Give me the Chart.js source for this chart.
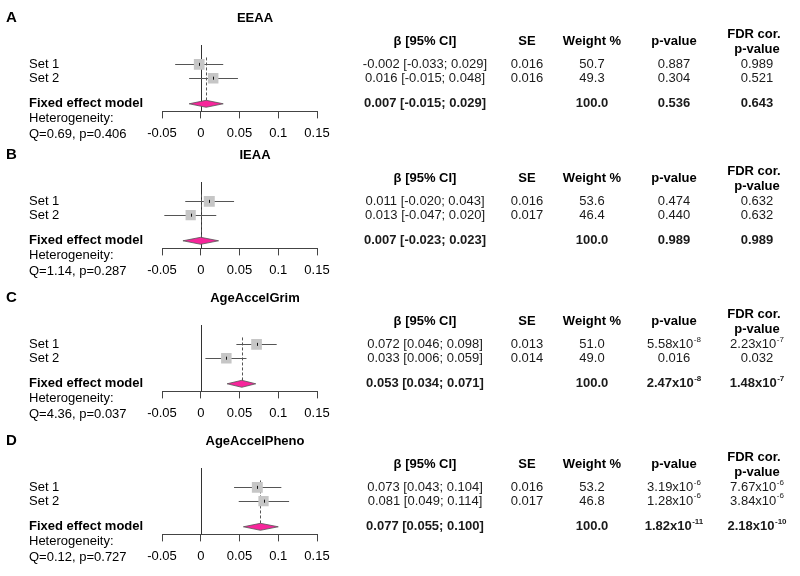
<!DOCTYPE html>
<html>
<head>
<meta charset="utf-8">
<script src="https://cdn.jsdelivr.net/npm/chart.js@4.4.0/dist/chart.umd.min.js"></script>
<style>
  body { margin: 0; background: #fff; }
  #wrap { position: relative; width: 800px; height: 576px; overflow: hidden; }
  .panel { position: absolute; left: 0; }
</style>
</head>
<body>
<div id="wrap"></div>
<script>
// données du graphique (un élément par panneau A-D)
const panelLetters = ["A", "B", "C", "D"];
const titles = ["EEAA", "IEAA", "AgeAccelGrim", "AgeAccelPheno"];
const studies = ["Set 1", "Set 2"];
const xTickLabels = ["-0.05", "0", "0.05", "0.1", "0.15"];

// estimations tracées
const studyEst = [[-0.002, 0.016], [0.011, -0.013], [0.072, 0.033], [0.073, 0.081]];
const studyLo = [[-0.033, -0.015], [-0.020, -0.047], [0.046, 0.006], [0.043, 0.049]];
const studyHi = [[0.029, 0.048], [0.043, 0.020], [0.098, 0.059], [0.104, 0.114]];
const studyWeight = [[50.7, 49.3], [53.6, 46.4], [51.0, 49.0], [53.2, 46.8]];
const fixedEst = [0.007, 0.0, 0.053, 0.077];
const fixedLo = [-0.015, -0.023, 0.034, 0.055];
const fixedHi = [0.029, 0.023, 0.071, 0.100];

// textes du tableau
const ciText = [
  ["-0.002 [-0.033; 0.029]", "0.016 [-0.015; 0.048]"],
  ["0.011 [-0.020; 0.043]", "0.013 [-0.047; 0.020]"],
  ["0.072 [0.046; 0.098]", "0.033 [0.006; 0.059]"],
  ["0.073 [0.043; 0.104]", "0.081 [0.049; 0.114]"]
];
const fixedCiText = ["0.007 [-0.015; 0.029]", "0.007 [-0.023; 0.023]", "0.053 [0.034; 0.071]", "0.077 [0.055; 0.100]"];
const seText = [["0.016", "0.016"], ["0.016", "0.017"], ["0.013", "0.014"], ["0.016", "0.017"]];
const weightText = [["50.7", "49.3"], ["53.6", "46.4"], ["51.0", "49.0"], ["53.2", "46.8"]];
const pText = [["0.887", "0.304"], ["0.474", "0.440"], ["5.58x10^-8", "0.016"], ["3.19x10^-6", "1.28x10^-6"]];
const fixedPText = ["0.536", "0.989", "2.47x10^-8", "1.82x10^-11"];
const fdrText = [["0.989", "0.521"], ["0.632", "0.632"], ["2.23x10^-7", "0.032"], ["7.67x10^-6", "3.84x10^-6"]];
const fixedFdrText = ["0.643", "0.989", "1.48x10^-7", "2.18x10^-10"];
const hetText = ["Q=0.69, p=0.406", "Q=1.14, p=0.287", "Q=4.36, p=0.037", "Q=0.12, p=0.727"];

// mise en page
const FAM = "'Liberation Sans', Arial, sans-serif";
const panelTops = [1, 138, 281, 424];
const rowPos = [1, 2];       // lignes Set 1 / Set 2
const fixedRow = 3.85;
const cols = { ci: 425, se: 527, w: 592, p: 674, fdr: 757 };

// texte avec exposant optionnel ("5.58x10^-8")
function drawVal(ctx, str, cx, cy, bold) {
  const parts = str.split("^");
  const f = (bold ? "bold " : "") + "13px " + FAM;
  const fs = (bold ? "bold " : "") + "8px " + FAM;
  ctx.font = f;
  const wb = ctx.measureText(parts[0]).width;
  let ws = 0;
  if (parts[1]) { ctx.font = fs; ws = ctx.measureText(parts[1]).width + 0.5; }
  const left = cx - (wb + ws) / 2;
  ctx.textAlign = "left";
  ctx.textBaseline = "middle";
  ctx.font = f;
  ctx.fillText(parts[0], left, cy);
  if (parts[1]) {
    ctx.font = fs;
    ctx.fillText(parts[1], left + wb + 0.5, cy - 5);
  }
}

function hline(ctx, x1, x2, y) {
  y = Math.round(y) + 0.5;
  ctx.beginPath(); ctx.moveTo(x1, y); ctx.lineTo(x2, y); ctx.stroke();
}
function vline(ctx, x, y1, y2) {
  x = Math.round(x) + 0.5;
  ctx.beginPath(); ctx.moveTo(x, y1); ctx.lineTo(x, y2); ctx.stroke();
}

const forestPlugin = (i) => ({
  id: "forest" + i,
  beforeDatasetsDraw(chart) {
    const { ctx, chartArea, scales: { x, y } } = chart;
    ctx.save();
    ctx.lineWidth = 1;
    // ligne zéro
    ctx.strokeStyle = "#333";
    vline(ctx, x.getPixelForValue(0), chartArea.top, chartArea.bottom);
    // ligne pointillée de l'effet fixe
    ctx.setLineDash([3, 2]);
    ctx.strokeStyle = "#555";
    vline(ctx, x.getPixelForValue(fixedEst[i]), y.getPixelForValue(0.5), y.getPixelForValue(fixedRow) - 3);
    ctx.setLineDash([]);
    // intervalles de confiance
    ctx.strokeStyle = "#555";
    studies.forEach((s, k) => {
      hline(ctx, x.getPixelForValue(studyLo[i][k]), x.getPixelForValue(studyHi[i][k]), y.getPixelForValue(rowPos[k]));
    });
    ctx.restore();
  },
  afterDatasetsDraw(chart) {
    const { ctx, scales: { x, y } } = chart;
    ctx.save();
    // petit trait au centre des carrés
    ctx.strokeStyle = "#111";
    studies.forEach((s, k) => {
      const py = y.getPixelForValue(rowPos[k]);
      vline(ctx, x.getPixelForValue(studyEst[i][k]), py - 1.5, py + 1.5);
    });
    // losange
    const fy = y.getPixelForValue(fixedRow);
    ctx.beginPath();
    ctx.moveTo(x.getPixelForValue(fixedLo[i]), fy);
    ctx.lineTo(x.getPixelForValue(fixedEst[i]), fy - 3.5);
    ctx.lineTo(x.getPixelForValue(fixedHi[i]), fy);
    ctx.lineTo(x.getPixelForValue(fixedEst[i]), fy + 3.5);
    ctx.closePath();
    ctx.fillStyle = "#f7259b";
    ctx.fill();
    ctx.strokeStyle = "#555";
    ctx.lineWidth = 0.8;
    ctx.stroke();
    ctx.restore();
  },
  afterDraw(chart) {
    const { ctx, chartArea, scales: { y } } = chart;
    ctx.save();
    ctx.fillStyle = "#000";
    // lettre et titre
    ctx.textBaseline = "middle";
    ctx.textAlign = "left";
    ctx.font = "bold 15px " + FAM;
    ctx.fillText(panelLetters[i], 6, chartArea.top - 27);
    ctx.textAlign = "center";
    ctx.font = "bold 13px " + FAM;
    ctx.fillText(titles[i], 255, chartArea.top - 27);
    // étiquettes à gauche
    ctx.textAlign = "left";
    ctx.font = "13px " + FAM;
    studies.forEach((s, k) => ctx.fillText(s, 29, y.getPixelForValue(rowPos[k])));
    ctx.font = "bold 13px " + FAM;
    ctx.fillText("Fixed effect model", 29, y.getPixelForValue(fixedRow));
    ctx.font = "13px " + FAM;
    ctx.fillText("Heterogeneity:", 29, y.getPixelForValue(4.9));
    ctx.fillText(hetText[i], 29, y.getPixelForValue(6.1));
    // en-têtes du tableau
    const hy = y.getPixelForValue(-0.65);
    drawVal(ctx, "β [95% CI]", cols.ci, hy, true);
    drawVal(ctx, "SE", cols.se, hy, true);
    drawVal(ctx, "Weight %", cols.w, hy, true);
    drawVal(ctx, "p-value", cols.p, hy, true);
    drawVal(ctx, "FDR cor.", cols.fdr - 3, y.getPixelForValue(-1.2), true);
    drawVal(ctx, "p-value", cols.fdr, y.getPixelForValue(-0.1), true);
    // valeurs
    ctx.fillStyle = "#1a1a1a";
    studies.forEach((s, k) => {
      const ry = y.getPixelForValue(rowPos[k]);
      drawVal(ctx, ciText[i][k], cols.ci, ry, false);
      drawVal(ctx, seText[i][k], cols.se, ry, false);
      drawVal(ctx, weightText[i][k], cols.w, ry, false);
      drawVal(ctx, pText[i][k], cols.p, ry, false);
      drawVal(ctx, fdrText[i][k], cols.fdr, ry, false);
    });
    const ry = y.getPixelForValue(fixedRow);
    drawVal(ctx, fixedCiText[i], cols.ci, ry, true);
    drawVal(ctx, "100.0", cols.w, ry, true);
    drawVal(ctx, fixedPText[i], cols.p, ry, true);
    drawVal(ctx, fixedFdrText[i], cols.fdr, ry, true);
    ctx.restore();
  }
});

const wrap = document.getElementById("wrap");
panelLetters.forEach((letter, i) => {
  const div = document.createElement("div");
  div.className = "panel";
  div.style.top = panelTops[i] + "px";
  const canvas = document.createElement("canvas");
  canvas.width = 800;
  canvas.height = 147;
  div.appendChild(canvas);
  wrap.appendChild(div);

  new Chart(canvas, {
    type: "scatter",
    data: {
      datasets: [{
        data: studyEst[i].map((v, k) => ({ x: v, y: rowPos[k] })),
        pointStyle: "rect",
        pointRadius: (c) => Math.sqrt(studyWeight[i][c.dataIndex]) * 1.5 / Math.SQRT2,
        backgroundColor: "#c6c6c6",
        borderWidth: 0
      }]
    },
    options: {
      responsive: false,
      animation: false,
      devicePixelRatio: 1,
      layout: { padding: { left: 162, right: 483, top: 44, bottom: 0 } },
      plugins: { legend: { display: false }, tooltip: { enabled: false } },
      scales: {
        x: {
          type: "linear",
          min: -0.05,
          max: 0.15,
          ticks: {
            stepSize: 0.05,
            autoSkip: false,
            maxRotation: 0,
            padding: 7,
            color: "#000",
            font: { size: 13, family: FAM },
            callback: (v, idx) => xTickLabels[idx]
          },
          grid: { drawOnChartArea: false, drawTicks: true, tickLength: 7, color: "#444" },
          border: { display: true, color: "#444" }
        },
        y: { type: "linear", display: false, reverse: true, min: -0.4, max: 4.4 }
      }
    },
    plugins: [forestPlugin(i)]
  });
});
</script>
</body>
</html>
